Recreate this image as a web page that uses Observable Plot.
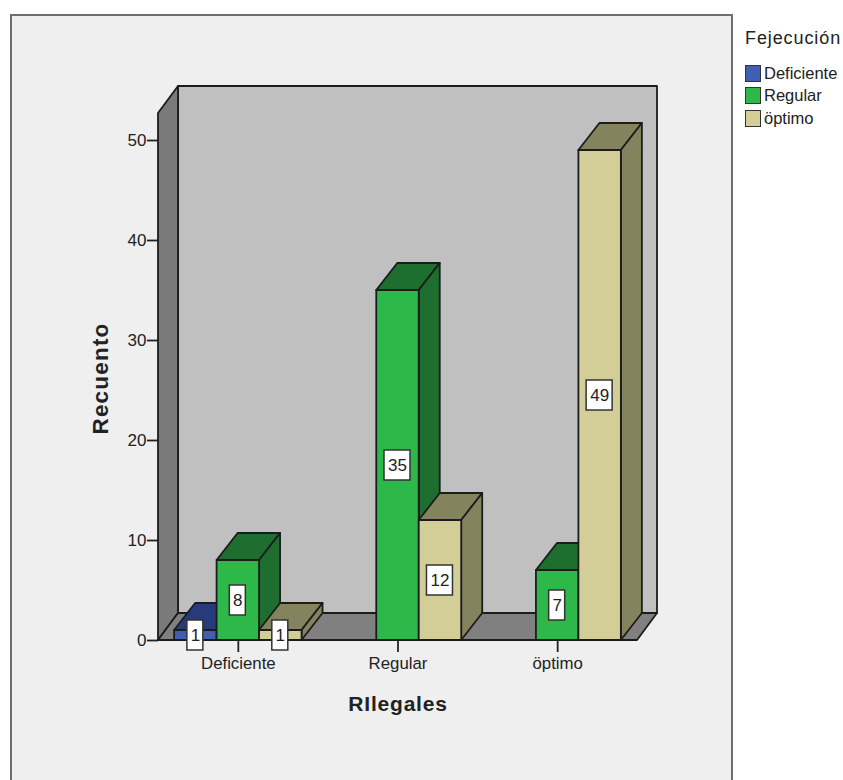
<!DOCTYPE html>
<html lang="es">
<head>
<meta charset="utf-8">
<title>Recuento de RIlegales por Fejecución</title>
<script src="https://cdn.jsdelivr.net/npm/d3@7"></script>
<script src="https://cdn.jsdelivr.net/npm/@observablehq/plot@0.6"></script>
<style>
  html, body { margin: 0; padding: 0; background: #fff; }
  #page { position: relative; width: 843px; height: 780px; overflow: hidden; font-family: "Liberation Sans", Arial, sans-serif; color: #222; }
  #frame { position: absolute; left: 10px; top: 14px; width: 719px; height: 800px; background: #efefef; border: 2px solid #6e6e6e; }
  #chart { position: absolute; left: 0; top: 0; }
  #legend { position: absolute; left: 745px; top: 26px; }
  #legend .title { font-size: 18px; letter-spacing: 0.9px; line-height: 24px; margin-bottom: 12px; white-space: nowrap; }
  #legend .row { display: flex; align-items: center; height: 22.5px; font-size: 16.5px; white-space: nowrap; }
  #legend .swatch { width: 14px; height: 15px; border: 1.5px solid #333; margin-right: 3px; flex: none; }
</style>
</head>
<body>
<div id="page">
  <div id="frame"></div>
  <div id="chart"></div>
  <div id="legend"></div>
</div>
<script>
// Counts of RIlegales per category, split by Fejecución
const categories = ["Deficiente", "Regular", "öptimo"];
const seriesNames = ["Deficiente", "Regular", "öptimo"];
const deficienteCounts = [1, 0, 0];
const regularCounts = [8, 35, 7];
const optimoCounts = [1, 12, 49];
const yTicks = [0, 10, 20, 30, 40, 50];

// Palette: front face and shaded faces of each series
const frontColors = ["#3f5fb5", "#2eb84a", "#d3ce97"];
const shadeColors = ["#263a7c", "#1d6e2f", "#85825e"];
const outline = "#1c1c1c";

const seriesCounts = [deficienteCounts, regularCounts, optimoCounts];
const barWidth = 0.266;
const depthX = 21;
const depthY = -27;

const rows = [];
categories.forEach((category, c) => {
  seriesNames.forEach((series, s) => {
    const count = seriesCounts[s][c];
    if (count > 0) {
      const center = c + 0.5 + (s - 1) * barWidth;
      rows.push({category, series, s, count, center});
    }
  });
});

const poly = (g, points, fill) =>
  g.append("polygon")
    .attr("points", points.map((p) => p.join(",")).join(" "))
    .attr("fill", fill)
    .attr("stroke", outline)
    .attr("stroke-width", 1.8)
    .attr("stroke-linejoin", "round");

// Room behind the bars: back wall, left wall and floor, projected from the plot box
function renderRoom(index, scales, values) {
  const g = d3.create("svg:g");
  for (const i of index) {
    const l = values.x1[i], r = values.x2[i];
    const b = values.y1[i], t = values.y2[i];
    const dx = depthX - 1, dy = depthY;
    poly(g, [[l + dx, t + dy], [r + dx, t + dy], [r + dx, b + dy], [l + dx, b + dy]], "#c0c0c0");
    poly(g, [[l, t], [l + dx, t + dy], [l + dx, b + dy], [l, b]], "#7a7a7a");
    poly(g, [[l, b], [l + dx, b + dy], [r + dx, b + dy], [r, b]], "#808080");
  }
  return g.node();
}

// Bars as extruded boxes: top and side faces first, then the front from the same scaled values
function renderBars(index, scales, values) {
  const g = d3.create("svg:g");
  for (const i of index) {
    const l = values.x1[i], r = values.x2[i];
    const b = values.y1[i], t = values.y2[i];
    const shade = shadeColors[rows[i].s];
    poly(g, [[l, t], [l + depthX, t + depthY], [r + depthX, t + depthY], [r, t]], shade);
    poly(g, [[r, t], [r + depthX, t + depthY], [r + depthX, b + depthY], [r, b]], shade);
    poly(g, [[l, t], [r, t], [r, b], [l, b]], values.fill[i]);
  }
  return g.node();
}

// White tag behind each value label
function renderTagged(index, scales, values, dimensions, context, next) {
  const texts = next(index, scales, values, dimensions, context);
  const g = d3.create("svg:g");
  for (const i of index) {
    const w = String(rows[i].count).length > 1 ? 26 : 16;
    g.append("rect")
      .attr("x", values.x[i] - w / 2 - 0.5)
      .attr("y", values.y[i] - 15)
      .attr("width", w)
      .attr("height", 30)
      .attr("fill", "#fff")
      .attr("stroke", "#333")
      .attr("stroke-width", 1.5);
  }
  g.node().appendChild(texts);
  return g.node();
}

const plot = Plot.plot({
  width: 733,
  height: 780,
  marginLeft: 158,
  marginRight: 96,
  marginTop: 116,
  marginBottom: 140,
  style: {background: "transparent", fontFamily: "'Liberation Sans', Arial, sans-serif", color: "#222", overflow: "visible"},
  x: {domain: [0, 3]},
  y: {domain: [0, 50], range: [640, 140]},
  color: {domain: seriesNames, range: frontColors},
  marks: [
    Plot.rect([{top: 52.7}], {x1: 0, x2: 3, y1: 0, y2: (d) => d.top, render: renderRoom}),
    Plot.rect(rows, {
      x1: (d) => d.center - barWidth / 2,
      x2: (d) => d.center + barWidth / 2,
      y1: 0,
      y2: (d) => d.count,
      fill: (d) => d.series,
      render: renderBars
    }),
    Plot.text(rows, {
      x: (d) => d.center,
      y: (d) => d.count / 2,
      dx: -0.5,
      text: (d) => String(d.count),
      fontSize: 17,
      fill: "#222",
      render: renderTagged
    }),
    Plot.axisY({
      ticks: yTicks,
      tickSize: 11,
      tickPadding: 1,
      fontSize: 17,
      stroke: "#222",
      strokeWidth: 1.8,
      label: "Recuento",
      labelArrow: "none",
      labelAnchor: "center",
      labelOffset: 66
    }),
    Plot.axisX({
      ticks: [0.5, 1.5, 2.5],
      tickFormat: (v) => categories[Math.floor(v)],
      tickSize: 12,
      tickPadding: 5,
      fontSize: 16.8,
      stroke: "#222",
      strokeWidth: 1.8,
      label: "RIlegales",
      labelArrow: "none",
      labelAnchor: "center",
      labelOffset: 70
    })
  ]
});
document.getElementById("chart").appendChild(plot);

// Axis titles are heavier than the tick labels
d3.select(plot).selectAll("[aria-label='y-axis label'] text")
  .attr("font-weight", "bold")
  .attr("font-size", 22.5)
  .attr("letter-spacing", "1.2px");
d3.select(plot).selectAll("[aria-label='x-axis label'] text")
  .attr("font-weight", "bold")
  .attr("font-size", 21)
  .attr("letter-spacing", "0.8px");

// Series key to the right of the frame
const legend = d3.select("#legend");
legend.append("div").attr("class", "title").text("Fejecución");
seriesNames.forEach((name, i) => {
  const row = legend.append("div").attr("class", "row");
  row.append("span").attr("class", "swatch").style("background", frontColors[i]);
  row.append("span").text(name);
});
</script>
</body>
</html>
